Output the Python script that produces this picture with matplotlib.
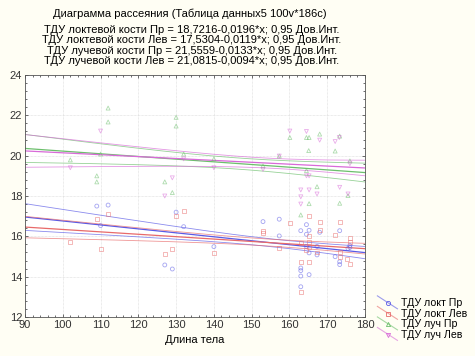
import numpy as np
import matplotlib
matplotlib.use("Agg")
import matplotlib.pyplot as plt
from matplotlib.lines import Line2D
from matplotlib.legend_handler import HandlerBase
from matplotlib.ticker import MultipleLocator

plt.rcParams['font.family'] = ['Liberation Sans', 'DejaVu Sans']

# ---- data ----
ulna_r_x = [109, 110, 112, 127, 129, 130, 132, 140, 153, 157.3, 157.3, 163, 163, 163, 163, 163, 164.5,
            164.5, 164.5, 165.2, 165.2, 165.2, 167.3, 167.3, 168, 172.1, 173.3, 173.3, 173.3, 175.5, 176, 176]
ulna_r_y = [17.5, 16.53, 17.55, 14.58, 14.38, 17.2, 16.48, 15.49, 16.73, 16.85, 16.02, 16.28, 14.43, 14.3,
            14.03, 13.5, 16.58, 16.1, 15.5, 16.3, 15.18, 14.1, 15.5, 15.08, 16.2, 14.99, 16.28, 14.74, 14.6,
            15.4, 15.45, 15.55]

ulna_l_x = [102, 109, 110, 112, 127, 129, 130, 132, 140, 153, 153, 157.3, 160.1, 163, 163, 163, 164.5,
            165.2, 165.2, 165.2, 165.2, 165.2, 167.3, 168, 168, 172.1, 173.3, 173.3, 173.3, 175.3, 176, 176, 176]
ulna_l_y = [15.74, 16.86, 15.37, 17.1, 15.13, 15.37, 17.0, 17.27, 15.17, 16.28, 16.18, 15.44, 16.68, 15.69,
            14.74, 13.23, 15.3, 17.02, 16.0, 15.73, 15.48, 14.74, 15.2, 16.73, 16.3, 16.07, 16.73, 15.24,
            14.99, 14.88, 15.9, 15.7, 14.63]

rad_r_x = [102, 109, 109, 110, 112, 112, 127, 129, 130, 130, 132, 140, 153, 157.3, 160.1, 163, 164.5,
           164.5, 165.2, 165.1, 165.2, 167.3, 168, 172.1, 173.3, 173.3, 175.5, 176]
rad_r_y = [19.79, 19.0, 18.7, 20.08, 22.36, 21.67, 18.7, 18.17, 21.9, 21.47, 20.08, 19.84, 19.49, 19.98,
           20.9, 17.06, 20.9, 19.26, 20.9, 20.25, 17.62, 18.46, 21.07, 20.23, 20.97, 17.64, 18.02, 19.74]

rad_l_x = [102, 110, 127, 129, 132, 140, 153, 157.3, 160.1, 163, 163, 163, 164.5, 164.5, 165.2,
           165.2, 167.3, 168, 172.1, 173.2, 173.3, 175.5, 176]
rad_l_y = [19.4, 21.22, 18.0, 18.9, 19.84, 19.4, 19.32, 19.98, 21.22, 18.3, 17.96, 17.6, 21.2, 19.0, 19.0,
           18.3, 18.1, 20.77, 20.7, 20.9, 18.43, 18.1, 19.6]

# full number of cases per variable (many points overlap in the picture)
n_cases = [100, 100, 100, 100]

intercepts = [18.7216, 17.5304, 21.5559, 21.0815]
slopes = [-0.0196, -0.0119, -0.0133, -0.0094]
labels = ["ТДУ локт Пр", "ТДУ локт Лев", "ТДУ луч Пр", "ТДУ луч Лев"]
eq_names = ["ТДУ локтевой кости Пр", "ТДУ локтевой кости Лев", "ТДУ лучевой кости Пр", "ТДУ лучевой кости Лев"]
eq_texts = ["18,7216-0,0196", "17,5304-0,0119", "21,5559-0,0133", "21,0815-0,0094"]
colors = ["#5a5ae6", "#e86a6a", "#6cbf6c", "#d86ad8"]
markers = ["o", "s", "^", "v"]

xs_all = [ulna_r_x, ulna_l_x, rad_r_x, rad_l_x]
ys_all = [ulna_r_y, ulna_l_y, rad_r_y, rad_l_y]

fig = plt.figure(figsize=(4.75, 3.56), dpi=100, facecolor="#fffef4")
ax = fig.add_axes([25/475, 1-317/356, 340/475, 242/356])
ax.set_facecolor("white")

xx = np.linspace(90, 180, 200)
for x, y, a, b, c, m, N in zip(xs_all, ys_all, intercepts, slopes, colors, markers, n_cases):
    x = np.asarray(x, float); y = np.asarray(y, float)
    ax.scatter(x, y, s=8, marker=m, facecolors="none", edgecolors=c, linewidths=0.6, alpha=0.55, zorder=3)
    yhat = a + b * xx
    resid = y - (a + b * x)
    n = len(x)
    s = np.sqrt(np.sum(resid**2) / (n - 2))
    sxx = np.sum((x - x.mean())**2) * N / n
    se = s * np.sqrt(1/N + (xx - x.mean())**2 / sxx)
    ax.plot(xx, yhat, color=c, lw=0.9, zorder=2)
    ax.plot(xx, yhat + 1.98*se, color=c, lw=0.6, alpha=0.7, zorder=2)
    ax.plot(xx, yhat - 1.98*se, color=c, lw=0.6, alpha=0.7, zorder=2)

ax.set_xlim(90, 180)
ax.set_ylim(12, 24)
ax.xaxis.set_major_locator(MultipleLocator(10))
ax.yaxis.set_major_locator(MultipleLocator(2))
ax.xaxis.set_minor_locator(MultipleLocator(2))
ax.yaxis.set_minor_locator(MultipleLocator(0.4))
ax.grid(True, which="major", color="#d8d8d8", lw=0.5, ls=(0, (1, 1)))
ax.tick_params(which="both", direction="in", top=True, right=True, labelsize=8, colors="#333333",
               length=2, width=0.5, pad=2)
ax.tick_params(which="minor", length=1.5)
for sp in ax.spines.values():
    sp.set_color("#555555"); sp.set_linewidth(0.6)
ax.set_xlabel("Длина тела", fontsize=8, labelpad=4)

fig.text(190/475, 1-14/356, "Диаграмма рассеяния (Таблица данных5 100v*186c)", ha="center", va="center", fontsize=8)
for i, (nm, et) in enumerate(zip(eq_names, eq_texts)):
    fig.text(192/475, 1-(30 + 10.3*i)/356, f"{nm} = {et}*x; 0,95 Дов.Инт.", ha="center", va="center", fontsize=8)


class DiagHandler(HandlerBase):
    def create_artists(self, legend, orig_handle, xdescent, ydescent, width, height, fontsize, trans):
        c = orig_handle.get_color()
        ln = Line2D([0, width], [height + 2, -2], color=c, lw=0.8, alpha=0.6, transform=trans)
        mk = Line2D([width*0.55], [height*0.4], marker=orig_handle.get_marker(), ms=3,
                    mfc="none", mec=c, mew=0.6, ls="none", transform=trans)
        return [ln, mk]

handles = [Line2D([], [], color=c, marker=m) for c, m in zip(colors, markers)]
leg = fig.legend(handles, labels, loc="lower left", bbox_to_anchor=(370/475, 9/356), frameon=False,
                 fontsize=7.6, handler_map={Line2D: DiagHandler()}, handlelength=1.9,
                 labelspacing=0.05, handletextpad=0.35, borderpad=0.2)

fig.savefig("out.png", dpi=100, facecolor=fig.get_facecolor())
